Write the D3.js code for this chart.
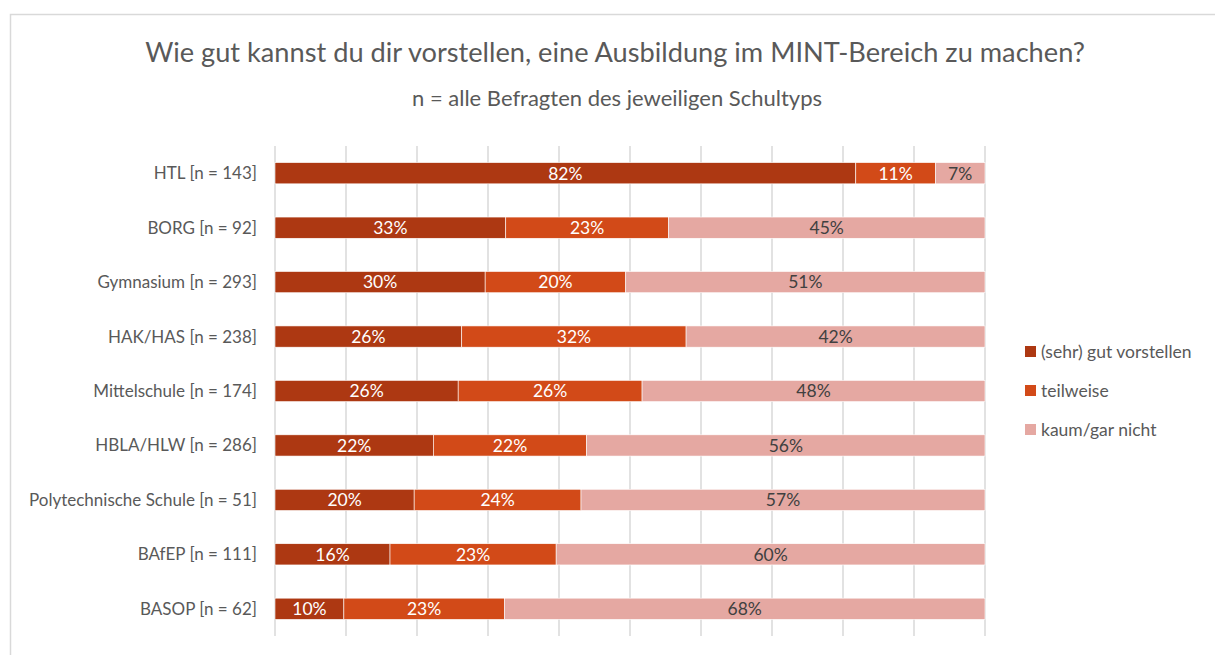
<!DOCTYPE html>
<html>
<head>
<meta charset="utf-8">
<script src="https://cdn.jsdelivr.net/npm/d3@7"></script>
<style>
  body { margin: 0; background: #fff; }
  svg text { font-family: Lato, "Open Sans", sans-serif; }
  .title { fill: #595959; font-size: 27.2px; }
  .subtitle { fill: #595959; font-size: 22px; }
  .cat { fill: #595959; font-size: 17px; }
  .legend text { fill: #595959; font-size: 17.5px; }
  .val { font-size: 17.5px; }
</style>
</head>
<body>
<svg id="chart" width="1215" height="655"></svg>
<script>
// categories, top to bottom
var categories = ["HTL [n = 143]", "BORG [n = 92]", "Gymnasium [n = 293]", "HAK/HAS [n = 238]",
                  "Mittelschule [n = 174]", "HBLA/HLW [n = 286]", "Polytechnische Schule [n = 51]",
                  "BAfEP [n = 111]", "BASOP [n = 62]"];
var seriesNames = ["(sehr) gut vorstellen", "teilweise", "kaum/gar nicht"];
// values in percent
var gut       = [81.8, 32.5, 29.6, 26.3, 25.8, 22.3, 19.6, 16.2, 9.7];
var teilweise = [11.2, 22.9, 19.8, 31.6, 25.9, 21.6, 23.5, 23.4, 22.6];
var kaum      = [7.0, 44.6, 50.6, 42.1, 48.3, 56.1, 56.9, 60.4, 67.7];
var xTicks    = [0, 10, 20, 30, 40, 50, 60, 70, 80, 90, 100];

var colors    = ["#ad3812", "#d24a18", "#e5a8a2"];
var textCols  = ["#ffffff", "#ffffff", "#404040"];

var svg = d3.select("#chart");

// outer chart frame
svg.append("rect")
    .attr("x", 10.5).attr("y", 14.5)
    .attr("width", 1220).attr("height", 660)
    .attr("fill", "#fff")
    .attr("stroke", "#d9d9d9")
    .attr("stroke-width", 1.5);

// title
svg.append("text")
    .attr("class", "title")
    .attr("x", 615).attr("y", 62)
    .attr("text-anchor", "middle")
    .text("Wie gut kannst du dir vorstellen, eine Ausbildung im MINT-Bereich zu machen?");

svg.append("text")
    .attr("class", "subtitle")
    .attr("x", 617).attr("y", 106)
    .attr("text-anchor", "middle")
    .text("n = alle Befragten des jeweiligen Schultyps");

var margin = {top: 146, left: 275},
    width  = 710,
    height = 490;

var g = svg.append("g").attr("transform", "translate(" + margin.left + "," + margin.top + ")");

var x = d3.scaleLinear().domain([0, 100]).range([0, width]);
var y = d3.scaleBand().domain(categories).range([0, height]).paddingInner(0.61).paddingOuter(0.305);

// vertical gridlines
g.append("g")
    .selectAll("line")
    .data(xTicks)
  .join("line")
    .attr("x1", d => x(d)).attr("x2", d => x(d))
    .attr("y1", 0).attr("y2", height)
    .attr("stroke", "#d9d9d9")
    .attr("stroke-width", 1.5);

// category axis labels
g.append("g")
    .selectAll("text")
    .data(categories)
  .join("text")
    .attr("class", "cat")
    .attr("x", -18)
    .attr("y", d => y(d) + y.bandwidth() / 2)
    .attr("dy", "0.35em")
    .attr("text-anchor", "end")
    .text(d => d);

// stacked data
var rows = categories.map(function(c, i) {
  return {cat: c, gut: gut[i], teilweise: teilweise[i], kaum: kaum[i]};
});
var stack = d3.stack().keys(["gut", "teilweise", "kaum"]);
var layers = stack(rows);

var layer = g.selectAll(".layer")
    .data(layers)
  .join("g")
    .attr("class", "layer");

layer.selectAll("rect")
    .data((d, i) => d.map(p => ({p: p, i: i})))
  .join("rect")
    .attr("x", d => x(d.p[0]))
    .attr("y", d => y(d.p.data.cat))
    .attr("width", d => x(d.p[1]) - x(d.p[0]))
    .attr("height", y.bandwidth())
    .attr("fill", d => colors[d.i])
    .attr("stroke", "#fff")
    .attr("stroke-width", 0.6);

layer.selectAll("text")
    .data((d, i) => d.map(p => ({p: p, i: i})))
  .join("text")
    .attr("class", "val")
    .attr("x", d => (x(d.p[0]) + x(d.p[1])) / 2)
    .attr("y", d => y(d.p.data.cat) + y.bandwidth() / 2)
    .attr("dy", "0.36em")
    .attr("text-anchor", "middle")
    .attr("fill", d => textCols[d.i])
    .text(d => Math.round(d.p[1] - d.p[0]) + "%");

// legend
var legend = svg.append("g").attr("class", "legend")
    .attr("transform", "translate(1025,352)");

var item = legend.selectAll("g")
    .data(seriesNames)
  .join("g")
    .attr("transform", (d, i) => "translate(0," + (i * 39) + ")");

item.append("rect")
    .attr("x", 0).attr("y", -6)
    .attr("width", 11).attr("height", 11)
    .attr("fill", (d, i) => colors[i]);

item.append("text")
    .attr("x", 16).attr("y", 0)
    .attr("dy", "0.35em")
    .text(d => d);
</script>
</body>
</html>
